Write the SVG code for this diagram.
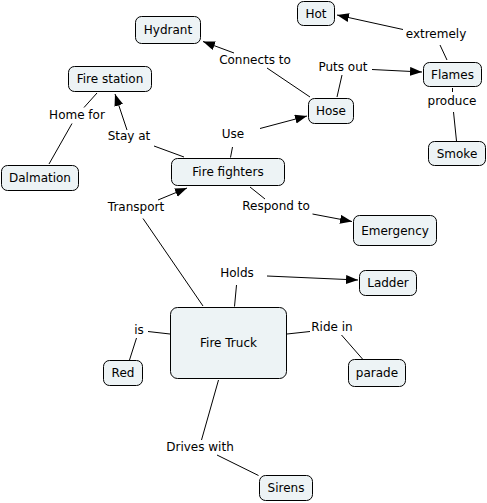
<svg xmlns="http://www.w3.org/2000/svg" width="487" height="503" viewBox="0 0 487 503">
<style>
.n rect{fill:#edf3f5;stroke:#000;stroke-width:1}
text{font-family:"DejaVu Sans",Verdana,sans-serif;font-size:12px;fill:#000;text-anchor:middle}
.c line{stroke:#000;stroke-width:1}
.a{marker-end:url(#ah)}
</style>
<defs>
<marker id="ah" markerUnits="userSpaceOnUse" markerWidth="13" markerHeight="10" refX="12" refY="4.5" orient="auto" viewBox="0 0 13 10">
<path d="M0,0 L12,4.5 L0,9 z" fill="#000"/>
</marker>
</defs>
<rect width="487" height="503" fill="#fff"/>
<g class="c" id="connectors">
<line x1="310" y1="97" x2="267" y2="68"/>
<line class="a" x1="234" y1="53" x2="203" y2="41.5"/>
<line x1="337" y1="97" x2="342" y2="75"/>
<line class="a" x1="372" y1="69.5" x2="422" y2="72"/>
<line x1="447" y1="60" x2="440" y2="45"/>
<line class="a" x1="403" y1="29.5" x2="337" y2="15"/>
<line x1="452.5" y1="88" x2="452.5" y2="92"/>
<line x1="453.5" y1="112" x2="456.5" y2="141"/>
<line x1="184" y1="157" x2="154" y2="146"/>
<line class="a" x1="127" y1="130" x2="115" y2="94"/>
<line x1="97" y1="93" x2="84" y2="107.5"/>
<line x1="72" y1="123.5" x2="49" y2="164"/>
<line x1="230.5" y1="157.5" x2="232.5" y2="147"/>
<line class="a" x1="260" y1="128.5" x2="307" y2="116"/>
<line x1="203" y1="306" x2="143" y2="218.5"/>
<line class="a" x1="158" y1="200" x2="187" y2="188"/>
<line x1="250" y1="187" x2="265" y2="199"/>
<line class="a" x1="312.5" y1="214" x2="352" y2="221.5"/>
<line x1="234.5" y1="306.5" x2="236.5" y2="285"/>
<line class="a" x1="267" y1="276" x2="358" y2="280"/>
<line x1="170" y1="334" x2="148" y2="331.5"/>
<line x1="136.5" y1="338" x2="129.5" y2="360"/>
<line x1="287" y1="334" x2="310" y2="331.5"/>
<line x1="341.5" y1="335" x2="362.5" y2="359"/>
<line x1="218.5" y1="380" x2="201.5" y2="440"/>
<line x1="217" y1="455" x2="258.5" y2="475.5"/>
</g>
<g id="labels">
<text x="255" y="64">Connects to</text>
<text x="343" y="71">Puts out</text>
<text x="436" y="38">extremely</text>
<text x="452" y="105">produce</text>
<text x="77" y="119">Home for</text>
<text x="129" y="140">Stay at</text>
<text x="233" y="138">Use</text>
<text x="136" y="211">Transport</text>
<text x="276" y="210">Respond to</text>
<text x="237" y="277">Holds</text>
<text x="139" y="334">is</text>
<text x="332" y="331">Ride in</text>
<text x="200" y="451">Drives with</text>
</g>
<g class="n" id="hydrant"><rect x="135.5" y="16.5" width="65" height="27" rx="6"/><text x="168" y="34">Hydrant</text></g>
<g class="n" id="fire-station"><rect x="68.5" y="66.5" width="83" height="25" rx="6"/><text x="110" y="83">Fire station</text></g>
<g class="n" id="dalmation"><rect x="1.5" y="165.5" width="77" height="25" rx="6"/><text x="40" y="182">Dalmation</text></g>
<g class="n" id="fire-fighters"><rect x="171.5" y="158.5" width="113" height="27" rx="6"/><text x="228" y="176">Fire fighters</text></g>
<g class="n" id="hot"><rect x="297.5" y="1.5" width="37" height="24" rx="6"/><text x="316" y="18">Hot</text></g>
<g class="n" id="flames"><rect x="423.5" y="62.5" width="58" height="24" rx="6"/><text x="452.5" y="79">Flames</text></g>
<g class="n" id="hose"><rect x="308.5" y="98.5" width="45" height="25" rx="6"/><text x="331" y="115">Hose</text></g>
<g class="n" id="smoke"><rect x="428.5" y="141.5" width="57" height="24" rx="6"/><text x="457" y="158">Smoke</text></g>
<g class="n" id="emergency"><rect x="353.5" y="215.5" width="83" height="30" rx="6"/><text x="395" y="234.5">Emergency</text></g>
<g class="n" id="ladder"><rect x="359.5" y="270.5" width="57" height="25" rx="6"/><text x="388" y="287">Ladder</text></g>
<g class="n" id="fire-truck"><rect x="170.5" y="307.5" width="116" height="71" rx="7"/><text x="228.5" y="347">Fire Truck</text></g>
<g class="n" id="red"><rect x="103.5" y="360.5" width="39" height="25" rx="6"/><text x="123" y="377">Red</text></g>
<g class="n" id="parade"><rect x="348.5" y="359.5" width="57" height="27" rx="6"/><text x="377" y="377">parade</text></g>
<g class="n" id="sirens"><rect x="259.5" y="475.5" width="53" height="25" rx="6"/><text x="286" y="492">Sirens</text></g>
</svg>
